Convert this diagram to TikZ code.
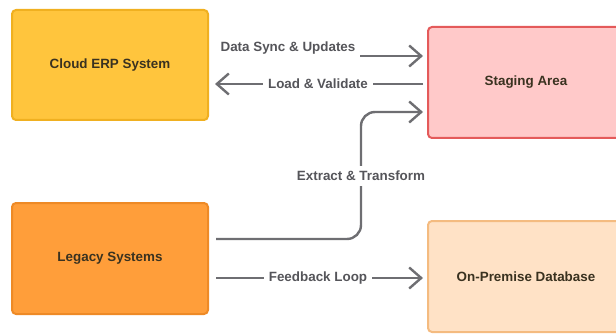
\documentclass[tikz,border=0pt]{standalone}
\usepackage{fontspec}
\setmainfont{Liberation Sans}
\usetikzlibrary{arrows.meta,calc}

\definecolor{erpfill}{HTML}{FFC53D}
\definecolor{erpline}{HTML}{F0B020}
\definecolor{stagefill}{HTML}{FFC9C9}
\definecolor{stageline}{HTML}{E45A5A}
\definecolor{legfill}{HTML}{FF9E3A}
\definecolor{legline}{HTML}{EE8A26}
\definecolor{dbfill}{HTML}{FFE2C6}
\definecolor{dbline}{HTML}{F4BB80}
\definecolor{flow}{HTML}{6E6E72}
\definecolor{boxtext}{HTML}{3A3220}
\definecolor{labeltext}{HTML}{55555A}

\tikzset{
  sysbox/.style={draw, line width=2pt, rounded corners=4pt,
    minimum width=196pt, inner sep=0pt,
    font=\fontsize{13.4}{15}\selectfont\bfseries, text=boxtext},
  flowline/.style={draw=flow, line width=2.4pt,
    -{Straight Barb[length=12pt,width=21pt,line width=2.4pt]}},
  flowlabel/.style={fill=white, inner xsep=5pt, inner ysep=5pt,
    font=\fontsize{13.4}{15}\selectfont\bfseries, text=labeltext}
}

\begin{document}
\begin{tikzpicture}[x=1pt,y=-1pt]
  \useasboundingbox (0,0) rectangle (616,334);

  % systems
  \node[sysbox, fill=erpfill, draw=erpline, minimum height=110pt]
    (erp) at (110,65) {Cloud ERP System};
  \node[sysbox, fill=stagefill, draw=stageline, minimum height=111pt]
    (stage) at (526,82.5) {Staging Area};
  \node[sysbox, fill=legfill, draw=legline, minimum height=111pt]
    (legacy) at (110,258.5) {Legacy Systems};
  \node[sysbox, fill=dbfill, draw=dbline, minimum height=111pt]
    (onprem) at (526,276.5) {On-Premise Database};

  % rows of the connectors
  \coordinate (syncrow) at (0,56);
  \coordinate (loadrow) at (0,84);
  \coordinate (extrow) at (0,239);
  \coordinate (bendtop) at (361,112);
  \coordinate (fbrow) at (0,278);

  % Cloud ERP -> Staging Area
  \draw[flowline, shorten <=12pt, shorten >=4pt]
    (erp.east |- syncrow) -- (stage.west |- syncrow);
  \node[flowlabel] (sync) at (288,48) {Data Sync \& Updates};

  % Staging Area -> Cloud ERP
  \draw[flowline, shorten <=4pt, shorten >=6pt]
    (stage.west |- loadrow) -- (erp.east |- loadrow)
    node[flowlabel, pos=0.5] (load) {Load \& Validate};

  % Legacy Systems -> Staging Area
  \draw[flowline, rounded corners=14pt, shorten <=7pt, shorten >=4pt]
    (legacy.east |- extrow) -| (bendtop) -- (stage.west |- bendtop);
  \node[flowlabel] (extract) at (361,176) {Extract \& Transform};

  % Legacy Systems -> On-Premise Database
  \draw[flowline, shorten <=7pt, shorten >=4pt]
    (legacy.east |- fbrow) -- (onprem.west |- fbrow)
    node[flowlabel, pos=0.5] (feedback) {Feedback Loop};
\end{tikzpicture}
\end{document}
